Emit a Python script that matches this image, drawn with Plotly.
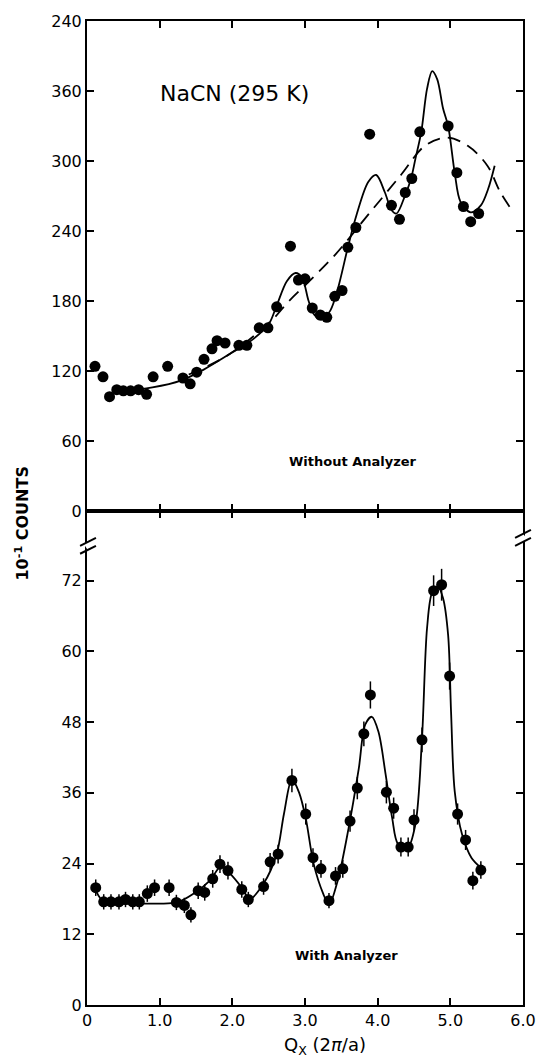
import plotly.graph_objects as go

# ---------------- data: top panel (Without Analyzer) ----------------
top_q = [0.11, 0.22, 0.31, 0.41, 0.50, 0.60, 0.71, 0.82, 0.91, 1.11, 1.32, 1.42,
         1.51, 1.61, 1.72, 1.79, 1.90, 2.09, 2.20, 2.37, 2.49, 2.61, 2.80, 2.91,
         3.00, 3.10, 3.21, 3.30, 3.41, 3.51, 3.59, 3.70, 3.89, 4.19, 4.30, 4.38,
         4.47, 4.58, 4.97, 5.09, 5.18, 5.28, 5.39]
top_counts = [124, 115, 98, 104, 103, 103, 104, 100, 115, 124, 114, 109,
              119, 130, 139, 146, 144, 142, 142, 157, 157, 175, 227, 198,
              199, 174, 168, 166, 184, 189, 226, 243, 323, 262, 250, 273,
              285, 325, 330, 290, 261, 248, 255]

top_fit_q = [0.35, 0.6, 0.9, 1.3, 1.6, 2.0, 2.3, 2.5, 2.61, 2.75, 2.87, 2.96,
             3.05, 3.13, 3.23, 3.35, 3.45, 3.59, 3.71, 3.87, 3.98, 4.10, 4.19,
             4.26, 4.38, 4.46, 4.52, 4.60, 4.68, 4.75, 4.82, 4.90, 4.97, 5.06,
             5.14, 5.28, 5.42, 5.52, 5.61]
top_fit = [105, 104, 106, 112, 121, 136, 148, 160, 176, 197, 204, 200,
           180, 168, 164, 172, 190, 226, 254, 282, 288, 273, 258,
           255, 271, 285, 302, 325, 362, 377, 370, 345, 330, 290,
           265, 256, 262, 276, 296]

bg_q = [1.40, 1.62, 2.00, 2.55, 2.78, 3.06, 3.42, 3.87, 4.32, 4.65, 4.95,
        5.24, 5.51, 5.69, 5.88]
bg_counts = [117, 123, 136, 164, 180, 197, 220, 254, 288, 313, 320,
             313, 296, 273, 255]

# ---------------- data: bottom panel (With Analyzer) ----------------
bot_q = [0.12, 0.23, 0.33, 0.44, 0.53, 0.63, 0.72, 0.83, 0.93, 1.13, 1.23, 1.34,
         1.43, 1.53, 1.62, 1.73, 1.83, 1.94, 2.13, 2.22, 2.43, 2.52, 2.63, 2.82,
         3.01, 3.11, 3.22, 3.33, 3.42, 3.52, 3.62, 3.72, 3.81, 3.90, 4.12, 4.22,
         4.32, 4.42, 4.50, 4.61, 4.77, 4.88, 4.99, 5.10, 5.21, 5.31, 5.42]
bot_counts = [19.9, 17.5, 17.5, 17.5, 17.9, 17.5, 17.5, 18.9, 19.9, 19.9, 17.4, 16.9,
              15.3, 19.4, 19.1, 21.4, 23.9, 22.8, 19.6, 17.9, 20.1, 24.3, 25.6, 38.1,
              32.4, 25.0, 23.1, 17.7, 21.9, 23.1, 31.2, 36.8, 46.0, 52.6, 36.1, 33.4,
              26.8, 26.8, 31.4, 45.0, 70.3, 71.3, 55.8, 32.4, 28.0, 21.1, 22.9]
bot_err = [1.4, 1.3, 1.3, 1.3, 1.3, 1.3, 1.3, 1.4, 1.4, 1.4, 1.3, 1.3,
           1.3, 1.4, 1.4, 1.5, 1.5, 1.5, 1.4, 1.3, 1.4, 1.5, 1.6, 2.0,
           1.8, 1.6, 1.5, 1.3, 1.5, 1.5, 1.8, 1.9, 2.1, 2.3, 1.9, 1.8,
           1.6, 1.6, 1.8, 2.1, 2.6, 2.7, 2.3, 1.8, 1.7, 1.5, 1.5]

bot_fit_q = [0.12, 0.24, 0.5, 0.79, 1.0, 1.24, 1.47, 1.69, 1.85, 1.96, 2.13, 2.24,
             2.43, 2.61, 2.71, 2.82, 2.92, 3.01, 3.12, 3.25, 3.33, 3.45, 3.60,
             3.74, 3.83, 3.92, 4.01, 4.11, 4.20, 4.28, 4.41, 4.52, 4.61, 4.68,
             4.75, 4.83, 4.90, 4.97, 5.01, 5.06, 5.16, 5.29, 5.42]
bot_fit = [19.4, 17.4, 17.2, 17.2, 17.2, 17.4, 18.9, 21.1, 23.6, 22.4, 19.9, 18.0,
           20.6, 25.6, 32.4, 38.3, 36.0, 31.7, 23.9, 18.9, 17.0, 21.1, 30.0,
           40.1, 47.6, 48.9, 46.4, 39.1, 31.7, 27.3, 26.6, 30.7, 45.2, 64.0,
           70.0, 71.0, 69.0, 62.7, 49.7, 36.3, 29.0, 25.0, 23.3]

x_tickvals = [0, 1, 2, 3, 4, 5, 6]
x_ticktext = ["0", "1.0", "2.0", "3.0", "4.0", "5.0", "6.0"]
top_tickvals = [0, 60, 120, 180, 240, 300, 360, 420]
top_ticktext = ["0", "60", "120", "180", "240", "300", "360", "240"]
bot_tickvals = [0, 12, 24, 36, 48, 60, 72]
bot_ticktext = ["0", "12", "24", "36", "48", "60", "72"]

# ---------------- figure ----------------
W, H = 548, 1061
ML, MR, MT, MB = 87, 21, 15, 56
PW, PH = W - ML - MR, H - MT - MB
SPLIT = 508  # pixel row where the panels meet
split_frac = (H - MB - SPLIT) / PH


def px_x(px):
    return (px - ML) / PW


def px_y(py):
    return (H - MB - py) / PH


fig = go.Figure()

fig.add_trace(go.Scatter(x=bg_q, y=bg_counts, mode="lines", xaxis="x", yaxis="y",
                         line=dict(color="black", width=1.8, dash="13px,8px", shape="spline",
                                   smoothing=1.0),
                         hoverinfo="skip", showlegend=False))
fig.add_trace(go.Scatter(x=top_fit_q, y=top_fit, mode="lines", xaxis="x", yaxis="y",
                         line=dict(color="black", width=1.8, shape="spline", smoothing=0.9),
                         hoverinfo="skip", showlegend=False))
fig.add_trace(go.Scatter(x=top_q, y=top_counts, mode="markers", xaxis="x", yaxis="y",
                         marker=dict(color="black", size=11), showlegend=False))

fig.add_trace(go.Scatter(x=bot_fit_q, y=bot_fit, mode="lines", xaxis="x2", yaxis="y2",
                         line=dict(color="black", width=1.8, shape="spline", smoothing=0.9),
                         hoverinfo="skip", showlegend=False))
fig.add_trace(go.Scatter(x=bot_q, y=bot_counts, mode="markers", xaxis="x2", yaxis="y2",
                         marker=dict(color="black", size=11),
                         error_y=dict(type="data", array=bot_err, color="black",
                                      thickness=1.5, width=0),
                         showlegend=False))

axis_common = dict(showline=True, linecolor="black", linewidth=2, mirror="ticks",
                   ticks="inside", tickcolor="black", tickwidth=1.5, ticklen=7,
                   showgrid=False, zeroline=False,
                   tickfont=dict(family="DejaVu Sans", size=16, color="black"))

fig.update_layout(
    width=W, height=H,
    margin=dict(l=ML, r=MR, t=MT, b=MB),
    paper_bgcolor="white", plot_bgcolor="white",
    xaxis=dict(domain=[0, 1], anchor="y", range=[0, 6], tickvals=[1, 2, 3, 4, 5],
               showticklabels=False, **axis_common),
    yaxis=dict(domain=[split_frac, 1], anchor="x", range=[0, 420],
               tickvals=top_tickvals, ticktext=top_ticktext, **axis_common),
    xaxis2=dict(domain=[0, 1], anchor="y2", range=[0, 6], tickvals=x_tickvals,
                ticktext=x_ticktext, **axis_common),
    yaxis2=dict(domain=[0, split_frac], anchor="x2", range=[0, (H - MB - SPLIT) / 5.93],
                tickvals=bot_tickvals, ticktext=bot_ticktext, **axis_common),
)

# axis break marks on left and right spines
shapes = []
for bx, by in [(ML + 1, 543), (ML + PW, 535)]:
    shapes.append(dict(type="line", xref="paper", yref="paper",
                       x0=px_x(bx - 2), x1=px_x(bx + 2), y0=px_y(by - 3), y1=px_y(by + 3),
                       line=dict(color="white", width=5), layer="above"))
    for off in (-4, 4):
        shapes.append(dict(type="line", xref="paper", yref="paper",
                           x0=px_x(bx - 8), x1=px_x(bx + 8),
                           y0=px_y(by + off + 4), y1=px_y(by + off - 4),
                           line=dict(color="black", width=2), layer="above"))
fig.update_layout(shapes=shapes)

annotations = [
    dict(text="NaCN (295 K)", x=px_x(236), y=px_y(88), font=dict(family="DejaVu Sans", size=22)),
    dict(text="<b>Without Analyzer</b>", x=px_x(355), y=px_y(458),
         font=dict(family="DejaVu Sans", size=13)),
    dict(text="<b>With Analyzer</b>", x=px_x(349), y=px_y(955),
         font=dict(family="DejaVu Sans", size=13)),
    dict(text="<b>10<sup>-1</sup> COUNTS</b>", x=px_x(22), y=px_y(521), textangle=-90,
         font=dict(family="DejaVu Sans", size=16)),
    dict(text="Q<sub>X</sub> (2<i>π</i>/a)", x=px_x(327), y=px_y(1046),
         font=dict(family="DejaVu Sans", size=18)),
]
for a in annotations:
    a.update(xref="paper", yref="paper", showarrow=False, xanchor="center", yanchor="middle")
    a["font"]["color"] = "black"
fig.update_layout(annotations=annotations)

fig.write_html("out.html")
